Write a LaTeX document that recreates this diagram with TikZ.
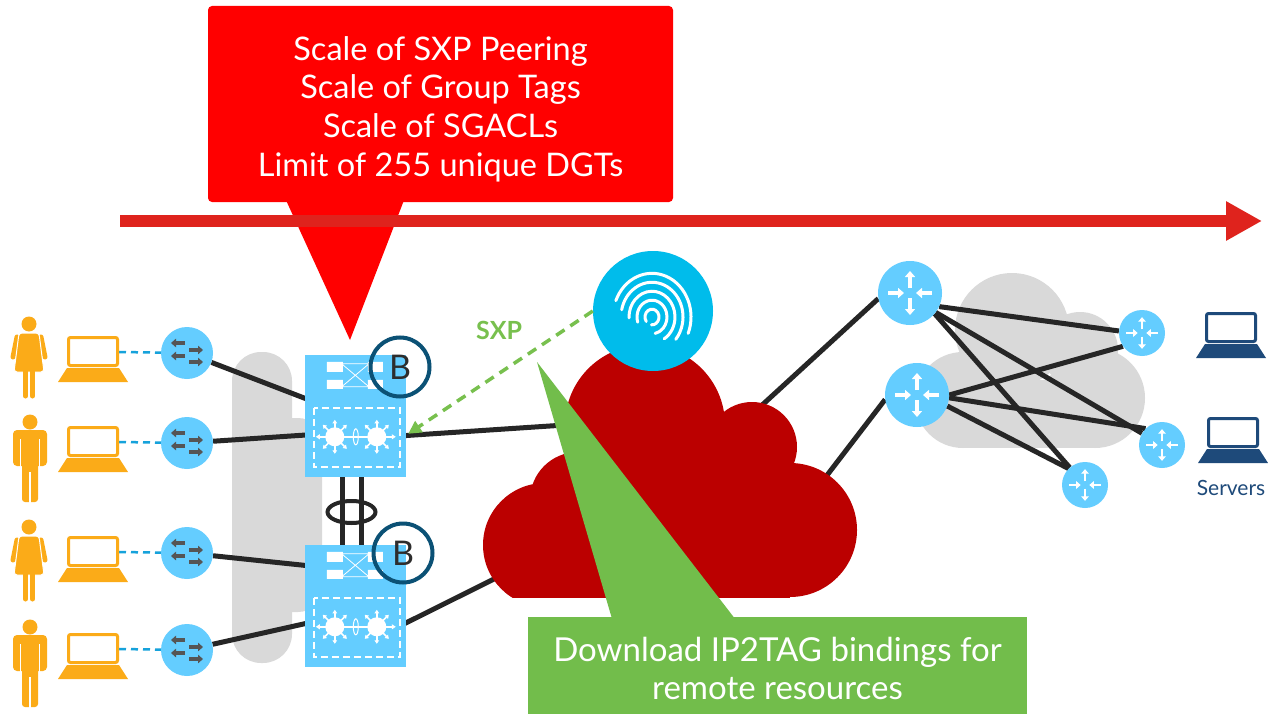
\documentclass[tikz,border=0pt]{standalone}
\usepackage{fontspec}
\setmainfont{Lato}
\usetikzlibrary{arrows.meta,shapes.geometric,positioning}

\definecolor{calloutred}{HTML}{FF0000}
\definecolor{flowred}{HTML}{DF231D}
\definecolor{cloudred}{HTML}{BB0000}
\definecolor{iseblue}{HTML}{00BCEB}
\definecolor{notegreen}{HTML}{72BD4B}
\definecolor{sxpgreen}{HTML}{78C04E}
\definecolor{iconblue}{HTML}{64CDFF}
\definecolor{glyphgray}{HTML}{555555}
\definecolor{cloudgray}{HTML}{D9D9D9}
\definecolor{userorange}{HTML}{FBAB18}
\definecolor{ringteal}{HTML}{0B5175}
\definecolor{bletter}{HTML}{2D2D2D}
\definecolor{linkgray}{HTML}{262626}
\definecolor{accessblue}{HTML}{16A2DB}
\definecolor{serverblue}{HTML}{1E4A7A}

\pgfdeclarelayer{bg}
\pgfdeclarelayer{links}
\pgfsetlayers{bg,links,main}

\tikzset{%
	accsw/.style    = {circle, fill=iconblue, minimum size=52pt, inner sep=0pt}, % access switch
	rtrbig/.style   = {circle, fill=iconblue, minimum size=64pt, inner sep=0pt}, % core router
	rtrsmall/.style = {circle, fill=iconblue, minimum size=46pt, inner sep=0pt}, % dc router
	member/.style   = {rectangle, fill=iconblue, minimum width=101pt, minimum height=122pt, inner sep=0pt}, % stack member
	bring/.style    = {circle, draw=ringteal, line width=4pt, minimum size=59pt, inner sep=0pt, text=bletter, font=\fontsize{34}{34}\selectfont},
	lag/.style      = {ellipse, draw=linkgray, line width=4pt, minimum width=48pt, minimum height=22pt, inner sep=0pt},
	fingerprint/.style = {circle, fill=iseblue, minimum size=120pt, inner sep=0pt},
	link/.style     = {draw=linkgray, line width=5pt},
	access/.style   = {draw=accessblue, line width=2.5pt, dash pattern=on 7pt off 5pt},
	sxp/.style      = {draw=sxpgreen, line width=3.5pt, dash pattern=on 10pt off 7pt, -{Triangle[length=13pt,width=13pt]}},
	flow/.style     = {draw=flowred, line width=12pt, -{Triangle[length=36pt,width=37pt]}},
	redcallout/.style   = {rectangle, rounded corners=4pt, fill=calloutred, text=white, minimum width=465pt, minimum height=196pt, align=center, font=\fontsize{32.5}{38.7}\selectfont},
	greencallout/.style = {rectangle, fill=notegreen, text=white, minimum width=499pt, minimum height=97pt, align=center, font=\fontsize{33}{38}\selectfont},
	sxplabel/.style = {text=sxpgreen, font=\bfseries\fontsize{25}{25}\selectfont},
	srvlabel/.style = {text=serverblue, font=\fontsize{21}{21}\selectfont},
	rtrarrows/.style  = {white, line width=3.6pt, -{Triangle[length=6pt,width=10pt]}},
	srtrarrows/.style = {white, line width=2.6pt, -{Triangle[length=4.5pt,width=7.5pt]}},
	swarrows/.style   = {glyphgray, line width=3.5pt, -{Triangle[length=5pt,width=8.5pt]}},
}

% laptop: x centre, top of screen, colour
\newcommand{\laptop}[3]{%
	\draw[#3, line width=3pt, rounded corners=2pt] (#1-24.5,#2+1.5) rectangle (#1+24.5,#2+29.5);
	\fill[#3] (#1-26,#2+32) -- (#1+26,#2+32) -- (#1+35,#2+46) -- (#1-35,#2+46) -- cycle;
}
% users, given the centre of the head
\newcommand{\woman}[2]{%
	\fill[userorange] (#1,#2) circle (7.5);
	\draw[userorange, line width=5pt, line cap=round] (#1-12,#2+13) -- (#1-16,#2+33) (#1+12,#2+13) -- (#1+16,#2+33);
	\fill[userorange, draw=white, line width=1pt, rounded corners=3pt] (#1-10,#2+9) -- (#1+10,#2+9) -- (#1+15,#2+48) -- (#1-15,#2+48) -- cycle;
	\draw[userorange, line width=5pt, line cap=round] (#1-3.5,#2+46) -- (#1-3.5,#2+72) (#1+3.5,#2+46) -- (#1+3.5,#2+72);
}
\newcommand{\man}[2]{%
	\fill[userorange] (#1,#2) circle (7.5);
	\fill[userorange, rounded corners=4pt] (#1-17,#2+8) rectangle (#1+17,#2+44);
	\draw[white, line width=1.2pt] (#1-9.5,#2+17) -- (#1-9.5,#2+45) (#1+9.5,#2+17) -- (#1+9.5,#2+45);
	\fill[userorange, rounded corners=3pt] (#1-8,#2+40) rectangle (#1+8,#2+80);
	\draw[white, line width=1.2pt] (#1,#2+50) -- (#1,#2+81);
}
% switch / router glyphs on top of the icon nodes
\newcommand{\swglyph}[1]{%
	\begin{scope}[shift={(#1.center)}, swarrows]
		\draw (-2,-10) -- (-16,-10);
		\draw (-2,3) -- (-16,3);
		\draw (2,-3) -- (16,-3);
		\draw (2,9) -- (16,9);
	\end{scope}}
\newcommand{\rtrglyph}[3]{%
	\begin{scope}[shift={(#1.center)}, scale=#2, #3]
		\draw (0,-5) -- (0,-22);
		\draw (0,5) -- (0,22);
		\draw (-22,0) -- (-6,0);
		\draw (22,0) -- (6,0);
	\end{scope}}
\newcommand{\memberglyph}[1]{%
	\begin{scope}[shift={(#1.north west)}, white]
		% uplink module
		\fill (22,7) rectangle (38,17) (22,25) rectangle (38,34) (63,7) rectangle (78,17) (63,25) rectangle (78,34);
		\draw[line width=0.8pt] (38,9) -- (63,9) (38,32) -- (63,32) (38,10) -- (63,31) (38,31) -- (63,10);
		% switching module
		\draw[line width=2pt, dash pattern=on 7pt off 4pt] (9,53) rectangle (95,112);
		\draw[line width=2pt, {Triangle[length=4pt,width=5pt]}-{Triangle[length=4pt,width=5pt]}] (11,82) -- (91,82);
		\foreach \cx in {30,72} {
			\fill (\cx,82) circle (9.5);
			\foreach \a in {45,90,135,225,270,315}
				\draw[line width=1.6pt, -{Triangle[length=3.5pt,width=4.5pt]}] (\cx,82) -- ++(\a:17);
		}
		\draw[line width=1pt] (51,82) ellipse (2.5 and 8);
	\end{scope}}

\begin{document}
\begin{tikzpicture}[x=1pt,y=-1pt]
	\useasboundingbox (0,0) rectangle (1268,714);

	% background and grey clouds
	\begin{pgfonlayer}{bg}
		\fill[white] (0,0) rectangle (1268,714);
		\fill[cloudgray, rounded corners=29pt] (232,352) rectangle (292,663);
		\fill[cloudgray, rounded corners=24pt] (262,418) rectangle (322,612);
		\fill[cloudgray] (1012,330) circle (57) (1080,350) circle (38) (1095,398) circle (50) (963,400) circle (48);
		\fill[cloudgray] (963,380) rectangle (1095,448);
	\end{pgfonlayer}

	% transport cloud
	\begin{scope}
		\clip (470,330) rectangle (870,597);
		\fill[cloudred] (545,545) circle (62) (578,500) circle (48) (645,425) circle (80) (752,447) circle (45) (790,530) circle (67);
		\fill[cloudred] (565,440) rectangle (790,600);
	\end{scope}
	\coordinate (cloudA) at (580,424);
	\coordinate (cloudB) at (524,564);
	\coordinate (cloudC) at (760,407);
	\coordinate (cloudD) at (818,487);

	% ISE
	\node[fingerprint] (fp) at (653,311) {};
	\begin{scope}[shift={(fp.center)}, y=1pt, white, line width=3pt, line cap=round]
		\foreach \r/\s/\e in {39/158/-22, 31/168/-40, 23/182/-58, 15/198/-78, 7/215/-95}
			\draw (-1,-6) ++(\s:{\r} and {1.12*\r}) arc[start angle=\s, end angle=\e, x radius=\r, y radius=1.12*\r];
	\end{scope}

	% users, laptops and access switches
	\foreach \i/\y in {1/353,2/443,3/553,4/650} {
		\node[accsw] (acc\i) at (187,\y) {};
		\swglyph{acc\i}
		\laptop{93}{\y-17}{userorange}
		\coordinate (lap\i) at (119,\y-1);
	}
	\woman{29}{324}
	\man{30}{422}
	\woman{29}{527}
	\man{30}{627}

	% border stack
	\node[member] (stk1) at (355.5,416) {};
	\node[member] (stk2) at (355.5,606) {};
	\memberglyph{stk1}
	\memberglyph{stk2}
	\node[lag] (lag) at (351.5,512) {};
	\node[bring] (b1) at (400,367) {B};
	\node[bring] (b2) at (403,553) {B};

	% data centre
	\node[rtrbig] (rtr1) at (910,293) {};
	\node[rtrbig] (rtr2) at (917,395) {};
	\node[rtrsmall] (sr1) at (1142,333) {};
	\node[rtrsmall] (sr2) at (1162,445) {};
	\node[rtrsmall] (sr3) at (1085,485) {};
	\rtrglyph{rtr1}{1}{rtrarrows}
	\rtrglyph{rtr2}{1}{rtrarrows}
	\foreach \n in {sr1,sr2,sr3} {\rtrglyph{\n}{0.72}{srtrarrows}}
	\laptop{1231}{312}{serverblue}
	\laptop{1233}{417}{serverblue}
	\node[srvlabel] (srv) at (1231,488) {Servers};

	% links
	\begin{pgfonlayer}{links}
		\foreach \i in {1,...,4} \draw[access] (lap\i) -- (acc\i);
		\draw[link] (acc1) -- ([xshift=4pt,yshift=-45pt]stk1.north west);
		\draw[link] (acc2) -- ([xshift=4pt,yshift=-80pt]stk1.north west);
		\draw[link] (acc3) -- ([xshift=4pt,yshift=-21pt]stk2.north west);
		\draw[link] (acc4) -- ([xshift=4pt,yshift=-78pt]stk2.north west);
		\draw[link] ([xshift=-13.5pt]stk1.south) -- ([xshift=-13.5pt]stk2.north);
		\draw[link] ([xshift=5.5pt]stk1.south) -- ([xshift=5.5pt]stk2.north);
		\draw[link] ([xshift=-4pt,yshift=-81pt]stk1.north east) -- (cloudA);
		\draw[link] ([xshift=-4pt,yshift=-80pt]stk2.north east) -- (cloudB);
		\draw[link] (cloudC) -- (rtr1.190);
		\draw[link] (cloudD) -- (rtr2.188);
		\draw[link] (rtr1.-25) -- (sr1.175);
		\draw[link] (rtr1.-37) -- (sr2);
		\draw[link] (rtr1.-40) -- (sr3);
		\draw[link] (rtr2.0) -- (sr1.215);
		\draw[link] (rtr2.-5) -- (sr2.135);
		\draw[link] (rtr2.-20) -- (sr3.135);
	\end{pgfonlayer}

	% SXP peering
	\draw[sxp] (fp.west) -- ([xshift=2pt,yshift=-79pt]stk1.north east);
	\node[sxplabel] (sxptxt) at (499,330) {SXP};

	% callouts
	\node[redcallout] (limits) at (440.5,104) {};
	\node[text=white, align=center, font=\fontsize{32.5}{38.7}\selectfont] (limtxt) at (440.5,109) {Scale of SXP Peering\\Scale of Group Tags\\Scale of SGACLs\\Limit of 255 unique DGTs};
	\coordinate (redtip) at (350,340);
	\fill[calloutred] ([xshift=-154.5pt,yshift=2pt]limits.south) -- ([xshift=-36.5pt,yshift=2pt]limits.south) -- (redtip) -- cycle;

	\node[greencallout] (ip2tag) at (777.5,665.5) {};
	\node[text=white, align=center, font=\fontsize{33}{38}\selectfont] (iptxt) at (777.5,668.5) {Download IP2TAG bindings for\\remote resources};
	\coordinate (greentip) at (537,362);
	\fill[notegreen] ([xshift=-165.5pt,yshift=-2pt]ip2tag.north) -- ([xshift=-42.5pt,yshift=-2pt]ip2tag.north) -- (greentip) -- cycle;

	% policy flow
	\coordinate (flowstart) at (120,221);
	\coordinate (flowend) at (1262,221);
	\draw[flow] (flowstart) -- (flowend);
\end{tikzpicture}
\end{document}
